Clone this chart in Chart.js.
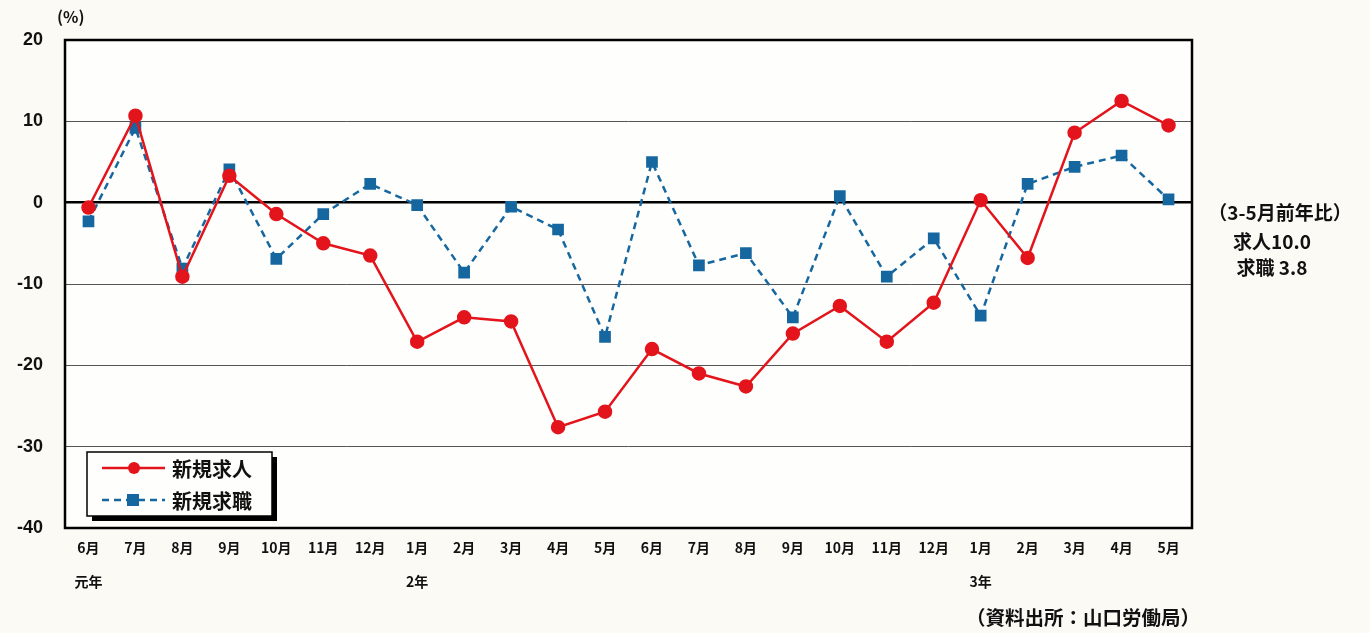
<!DOCTYPE html>
<html>
<head>
<meta charset="utf-8">
<script src="https://cdn.jsdelivr.net/npm/chart.js@4"></script>
<style>
html,body{margin:0;padding:0;background:#fbfaf4;}
#wrap{position:relative;width:1370px;height:633px;}
canvas{display:block;}
</style>
</head>
<body>
<div id="wrap"><canvas id="c" width="1370" height="633"></canvas></div>
<script>
const months = ['6月','7月','8月','9月','10月','11月','12月','1月','2月','3月','4月','5月','6月','7月','8月','9月','10月','11月','12月','1月','2月','3月','4月','5月'];
const years  = ['元年','','','','','','','2年','','','','','','','','','','','','3年','','','',''];
const seriesNames = ['新規求人','新規求職'];
const jobOffers  = [-0.6,10.7,-9.1,3.3,-1.4,-5.0,-6.5,-17.1,-14.1,-14.6,-27.6,-25.7,-18.0,-21.0,-22.6,-16.1,-12.7,-17.1,-12.3,0.3,-6.8,8.6,12.5,9.5];
const jobSeekers = [-2.3,9.2,-8.1,4.1,-6.9,-1.4,2.3,-0.3,-8.6,-0.5,-3.3,-16.5,5.0,-7.7,-6.2,-14.1,0.8,-9.1,-4.4,-13.9,2.3,4.4,5.8,0.4];
const yTicks = [20,10,0,-10,-20,-30,-40];
const noteLines = ['（3-5月前年比）','求人10.0','求職 3.8'];
const unitLabel = '(%)';
const sourceText = '（資料出所：山口労働局）';

const RED = '#e3141b', BLUE = '#16679f';
const JP = '"Noto Sans CJK JP", "Liberation Sans", sans-serif';

const labels = months.map((m,i)=>[m, years[i]]);

const decor = {
  id:'decor',
  afterDraw(chart){
    const {ctx, chartArea:a} = chart;
    ctx.save();
    ctx.strokeStyle = '#000'; ctx.lineWidth = 2.5;
    ctx.strokeRect(a.left, a.top, a.right-a.left, a.bottom-a.top);
    // legend
    const lx=87, ly=452, lw=185, lh=64;
    ctx.fillStyle='#000'; ctx.fillRect(lx+5, ly+5, lw, lh);
    ctx.fillStyle='#fefefc'; ctx.fillRect(lx, ly, lw, lh);
    ctx.lineWidth=1.5; ctx.strokeStyle='#000'; ctx.strokeRect(lx, ly, lw, lh);
    const ds = chart.data.datasets;
    const rows=[468,500];
    ds.forEach((d,i)=>{
      const y=rows[i];
      ctx.strokeStyle=d.borderColor; ctx.lineWidth=d.borderWidth;
      ctx.setLineDash(d.borderDash||[]);
      ctx.beginPath(); ctx.moveTo(102,y); ctx.lineTo(165,y); ctx.stroke();
      ctx.setLineDash([]);
      ctx.fillStyle=d.pointBackgroundColor;
      if(d.pointStyle==='rect'){ ctx.fillRect(127,y-6,12,12); }
      else { ctx.beginPath(); ctx.arc(134,y,6,0,Math.PI*2); ctx.fill(); }
      ctx.fillStyle='#111'; ctx.font='bold 20px '+JP; ctx.textBaseline='middle'; ctx.textAlign='left';
      ctx.fillText(d.label,172,y+1);
    });
    ctx.fillStyle='#111'; ctx.textAlign='left'; ctx.textBaseline='middle';
    ctx.font='bold 16px '+JP; ctx.fillText(unitLabel,57,17);
    ctx.font='bold 19px '+JP; ctx.textAlign='center';
    ctx.fillText(noteLines[0],1280,213);
    ctx.fillText(noteLines[1],1272,242);
    ctx.fillText(noteLines[2],1272,268);
    ctx.font='bold 19.5px '+JP; ctx.textAlign='right';
    ctx.fillText(sourceText,1200,618);
    ctx.restore();
  }
};

const plotBg = {
  id:'plotBg',
  beforeDraw(chart){
    const {ctx, chartArea:a} = chart;
    ctx.save(); ctx.fillStyle='#fefefc';
    ctx.fillRect(a.left,a.top,a.right-a.left,a.bottom-a.top); ctx.restore();
  }
};

new Chart(document.getElementById('c'), {
  type:'line',
  data:{
    labels,
    datasets:[
      {label:seriesNames[0], data:jobOffers, borderColor:RED, backgroundColor:RED, pointBackgroundColor:RED, pointBorderColor:RED,
       borderWidth:2.5, pointStyle:'circle', pointRadius:6, tension:0, order:1},
      {label:seriesNames[1], data:jobSeekers, borderColor:BLUE, backgroundColor:BLUE, pointBackgroundColor:BLUE, pointBorderColor:BLUE,
       borderWidth:2.5, borderDash:[7,5], pointStyle:'rect', pointRadius:6.5, tension:0, order:2}
    ]
  },
  options:{
    responsive:false, animation:false,
    layout:{padding:{top:40,right:178,left:0,bottom:0}},
    plugins:{legend:{display:false}, tooltip:{enabled:false}},
    scales:{
      x:{
        offset:true,
        grid:{display:false, drawTicks:false},
        border:{display:false},
        ticks:{color:'#111', font:{family:JP, size:14, weight:'bold', lineHeight:2.43}, padding:3, maxRotation:0, autoSkip:false},
        afterFit(s){ s.height=105; }
      },
      y:{
        min:-40, max:20,
        afterBuildTicks(s){ s.ticks = yTicks.map(v=>({value:v})); },
        grid:{drawTicks:false, color:ctx=>ctx.tick && ctx.tick.value===0 ? '#000' : '#555',
              lineWidth:ctx=>ctx.tick && ctx.tick.value===0 ? 2.5 : 1},
        border:{display:false},
        ticks:{color:'#111', font:{family:'"Liberation Sans", Arial, sans-serif', size:18, weight:'bold'}, padding:22,
               callback:v=>String(v)},
        afterFit(s){ s.width=65; }
      }
    }
  },
  plugins:[plotBg, decor]
});
</script>
</body>
</html>
